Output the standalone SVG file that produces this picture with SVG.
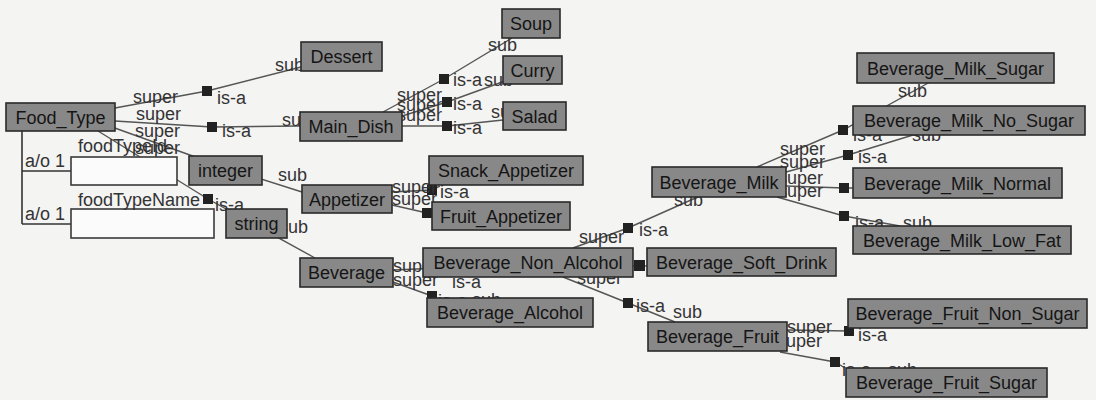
<svg xmlns="http://www.w3.org/2000/svg" width="1096" height="400" viewBox="0 0 1096 400">
  <style>
    text { font-family: "Liberation Sans", Arial, sans-serif; font-size: 18px; }
    .node rect { fill: #888888; stroke: #2a2a2a; stroke-width: 1.6; }
    .node text { fill: #151515; text-anchor: middle; }
    .attr rect { fill: #fbfbfb; stroke: #3a3a3a; stroke-width: 1.6; }
    .attr line { stroke: #333; stroke-width: 1.6; }
    .lbl { fill: #333333; }
    #connectors line, #connectors polyline { stroke: #555555; stroke-width: 1.4; fill: none; }
    .sq { fill: #222222; }
  </style>
  <rect width="1096" height="400" fill="#f4f4f3"/>

  <g id="connectors">
    <!-- Food_Type is-a links -->
    <polyline points="115,108 207,91 301,67"/>
    <polyline points="115,121 212,127 300,126"/>
    <polyline points="112,127 226,168 302,192"/>
    <polyline points="98,131 208,199 315,258"/>
    <!-- Main_Dish -->
    <polyline points="383,112 444,79 512,38"/>
    <polyline points="402,116 447,102 505,81"/>
    <polyline points="402,126 447,126 503,120"/>
    <!-- Appetizer -->
    <polyline points="392,192 432,190 440,186"/>
    <polyline points="392,205 427,213 433,214"/>
    <!-- Beverage -->
    <polyline points="393,270 440,268"/>
    <polyline points="393,282 432,296 440,300"/>
    <!-- Beverage_Non_Alcohol -->
    <polyline points="573,248 628,228 700,196"/>
    <line x1="633" y1="266" x2="647" y2="266"/>
    <polyline points="563,277 628,303 675,322"/>
    <!-- Beverage_Milk -->
    <polyline points="757,167 843,130 930,82"/>
    <polyline points="786,172 848,155 913,135"/>
    <polyline points="786,186 844,188 853,188"/>
    <polyline points="777,197 844,216 900,226"/>
    <!-- Beverage_Fruit -->
    <polyline points="787,330 849,331 852,328"/>
    <polyline points="780,352 835,362 845,368"/>

    <!-- junction squares -->
    <rect class="sq" x="202" y="86" width="10" height="10"/>
    <rect class="sq" x="207" y="122" width="10" height="10"/>
    <rect class="sq" x="203" y="194" width="10" height="10"/>
    <rect class="sq" x="439" y="74" width="10" height="10"/>
    <rect class="sq" x="442" y="97" width="10" height="10"/>
    <rect class="sq" x="442" y="121" width="10" height="10"/>
    <rect class="sq" x="427" y="185" width="10" height="10"/>
    <rect class="sq" x="422" y="208" width="10" height="10"/>
    <rect class="sq" x="427" y="291" width="10" height="10"/>
    <rect class="sq" x="623" y="223" width="10" height="10"/>
    <rect class="sq" x="634" y="260" width="11" height="11"/>
    <rect class="sq" x="623" y="298" width="10" height="10"/>
    <rect class="sq" x="838" y="125" width="10" height="10"/>
    <rect class="sq" x="843" y="150" width="10" height="10"/>
    <rect class="sq" x="839" y="183" width="10" height="10"/>
    <rect class="sq" x="839" y="211" width="10" height="10"/>
    <rect class="sq" x="844" y="326" width="10" height="10"/>
    <rect class="sq" x="830" y="357" width="10" height="10"/>

    <!-- role labels -->
    <text class="lbl" x="133" y="103">super</text>
    <text class="lbl" x="136" y="120">super</text>
    <text class="lbl" x="135" y="137">super</text>
    <text class="lbl" x="135" y="154">super</text>
    <text class="lbl" x="217" y="104">is-a</text>
    <text class="lbl" x="222" y="137">is-a</text>
    <text class="lbl" x="215" y="211">is-a</text>
    <text class="lbl" x="275" y="71">sub</text>
    <text class="lbl" x="282" y="126">sub</text>
    <text class="lbl" x="278" y="181">sub</text>
    <text class="lbl" x="279" y="233">sub</text>

    <text class="lbl" x="397" y="101">super</text>
    <text class="lbl" x="397" y="111">super</text>
    <text class="lbl" x="397" y="121">super</text>
    <text class="lbl" x="453" y="86">is-a</text>
    <text class="lbl" x="453" y="110">is-a</text>
    <text class="lbl" x="453" y="134">is-a</text>
    <text class="lbl" x="488" y="51">sub</text>
    <text class="lbl" x="484" y="86">sub</text>
    <text class="lbl" x="491" y="118">sub</text>

    <text class="lbl" x="392" y="193">super</text>
    <text class="lbl" x="392" y="205">super</text>
    <text class="lbl" x="440" y="198">is-a</text>

    <text class="lbl" x="393" y="272">super</text>
    <text class="lbl" x="393" y="286">super</text>
    <text class="lbl" x="452" y="288">is-a</text>
    <text class="lbl" x="438" y="307">is-a</text>
    <text class="lbl" x="472" y="306">sub</text>

    <text class="lbl" x="579" y="243">super</text>
    <text class="lbl" x="577" y="284">super</text>
    <text class="lbl" x="639" y="236">is-a</text>
    <text class="lbl" x="636" y="312">is-a</text>
    <text class="lbl" x="674" y="206">sub</text>
    <text class="lbl" x="673" y="318">sub</text>

    <text class="lbl" x="780" y="155">super</text>
    <text class="lbl" x="780" y="168">super</text>
    <text class="lbl" x="778" y="184">super</text>
    <text class="lbl" x="778" y="197">super</text>
    <text class="lbl" x="853" y="141">is-a</text>
    <text class="lbl" x="858" y="163">is-a</text>
    <text class="lbl" x="855" y="229">is-a</text>
    <text class="lbl" x="898" y="97">sub</text>
    <text class="lbl" x="912" y="141">sub</text>
    <text class="lbl" x="903" y="229">sub</text>

    <text class="lbl" x="787" y="333">super</text>
    <text class="lbl" x="777" y="347">super</text>
    <text class="lbl" x="858" y="341">is-a</text>
    <text class="lbl" x="842" y="376">is-a</text>
    <text class="lbl" x="888" y="376">sub</text>
  </g>

  <!-- attributes of Food_Type -->
  <g id="attributes" class="attr">
    <line x1="22" y1="131" x2="22" y2="224"/>
    <line x1="22" y1="171" x2="71" y2="171"/>
    <line x1="22" y1="224" x2="71" y2="224"/>
    <text class="lbl" x="25" y="167">a/o 1</text>
    <text class="lbl" x="25" y="220">a/o 1</text>
  </g>
  <g id="attr-foodTypeId" class="attr">
    <rect x="71" y="157" width="106" height="28"/>
    <text class="lbl" x="78" y="152">foodTypeId</text>
  </g>
  <g id="attr-foodTypeName" class="attr">
    <rect x="71" y="209" width="143" height="29"/>
    <text class="lbl" x="78" y="206">foodTypeName</text>
  </g>

  <!-- classes -->
  <g id="Food_Type" class="node"><rect x="6" y="103" width="109" height="28"/><text x="60.5" y="123.5">Food_Type</text></g>
  <g id="Dessert" class="node"><rect x="301" y="42" width="81" height="29"/><text x="341.5" y="63">Dessert</text></g>
  <g id="Soup" class="node"><rect x="502" y="9" width="58" height="29"/><text x="531" y="30">Soup</text></g>
  <g id="Curry" class="node"><rect x="503" y="56" width="59" height="28"/><text x="532.5" y="76.5">Curry</text></g>
  <g id="Salad" class="node"><rect x="503" y="102" width="63" height="28"/><text x="534.5" y="122.5">Salad</text></g>
  <g id="Main_Dish" class="node"><rect x="300" y="112" width="102" height="29"/><text x="351" y="133">Main_Dish</text></g>
  <g id="integer" class="node"><rect x="189" y="156" width="73" height="29"/><text x="225.5" y="177">integer</text></g>
  <g id="string" class="node"><rect x="226" y="209" width="61" height="29"/><text x="256.5" y="230">string</text></g>
  <g id="Appetizer" class="node"><rect x="302" y="185" width="90" height="28"/><text x="347" y="205.5">Appetizer</text></g>
  <g id="Snack_Appetizer" class="node"><rect x="429" y="156" width="154" height="29"/><text x="506" y="177">Snack_Appetizer</text></g>
  <g id="Fruit_Appetizer" class="node"><rect x="432" y="202" width="138" height="28"/><text x="501" y="222.5">Fruit_Appetizer</text></g>
  <g id="Beverage" class="node"><rect x="300" y="258" width="93" height="29"/><text x="346.5" y="279">Beverage</text></g>
  <g id="Beverage_Non_Alcohol" class="node"><rect x="423" y="248" width="210" height="29"/><text x="528" y="269">Beverage_Non_Alcohol</text></g>
  <g id="Beverage_Alcohol" class="node"><rect x="427" y="298" width="166" height="29"/><text x="510" y="319">Beverage_Alcohol</text></g>
  <g id="Beverage_Soft_Drink" class="node"><rect x="647" y="248" width="189" height="28"/><text x="741.5" y="268.5">Beverage_Soft_Drink</text></g>
  <g id="Beverage_Fruit" class="node"><rect x="648" y="322" width="139" height="29"/><text x="717.5" y="343">Beverage_Fruit</text></g>
  <g id="Beverage_Milk" class="node"><rect x="652" y="167" width="134" height="30"/><text x="719" y="188.5">Beverage_Milk</text></g>
  <g id="Beverage_Milk_Sugar" class="node"><rect x="857" y="53" width="197" height="30"/><text x="955.5" y="74.5">Beverage_Milk_Sugar</text></g>
  <g id="Beverage_Milk_No_Sugar" class="node"><rect x="853" y="106" width="232" height="29"/><text x="969" y="127">Beverage_Milk_No_Sugar</text></g>
  <g id="Beverage_Milk_Normal" class="node"><rect x="853" y="168" width="209" height="30"/><text x="957.5" y="189.5">Beverage_Milk_Normal</text></g>
  <g id="Beverage_Milk_Low_Fat" class="node"><rect x="853" y="226" width="218" height="28"/><text x="962" y="246.5">Beverage_Milk_Low_Fat</text></g>
  <g id="Beverage_Fruit_Non_Sugar" class="node"><rect x="848" y="299" width="239" height="29"/><text x="967.5" y="320">Beverage_Fruit_Non_Sugar</text></g>
  <g id="Beverage_Fruit_Sugar" class="node"><rect x="846" y="368" width="201" height="29"/><text x="946.5" y="389">Beverage_Fruit_Sugar</text></g>
</svg>
